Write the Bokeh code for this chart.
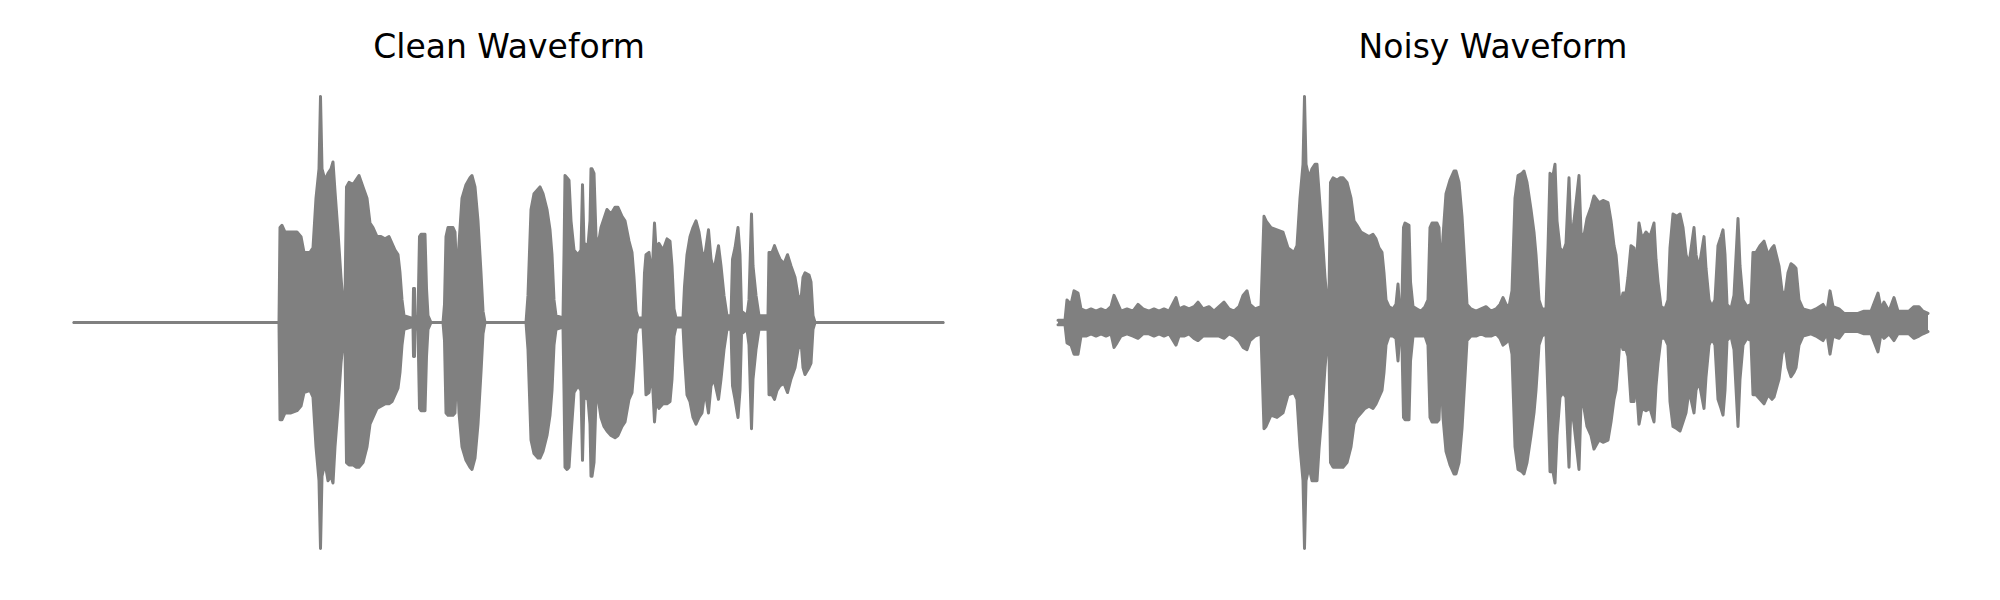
from bokeh.plotting import figure
from bokeh.layouts import row
from bokeh.models import Range1d
from bokeh.embed import file_html
from bokeh.resources import INLINE

# ---- data: amplitude envelope of the waveforms (time in ms, amplitude normalised) ----
clean_t = [0, 820, 824, 832, 844, 868, 892, 908, 920, 944, 956, 968, 980, 986, 992, 1004, 1016, 1028,
           1036, 1044, 1056, 1068, 1076, 1084, 1090, 1100, 1116, 1128, 1140, 1156, 1172, 1184, 1196,
           1212, 1228, 1244, 1260, 1272, 1284, 1296, 1304, 1312, 1320, 1348, 1356, 1358, 1362, 1364,
           1376, 1382, 1388, 1404, 1410, 1416, 1428, 1476, 1482, 1488, 1496, 1516, 1524, 1532, 1540,
           1552, 1568, 1584, 1592, 1604, 1616, 1628, 1636, 1644, 1808, 1816, 1828, 1840, 1856, 1864,
           1876, 1892, 1904, 1912, 1920, 1928, 1956, 1960, 1964, 1972, 1980, 1988, 2000, 2016, 2028,
           2034, 2040, 2056, 2064, 2068, 2072, 2080, 2088, 2096, 2108, 2120, 2132, 2148, 2164, 2176,
           2192, 2204, 2220, 2232, 2240, 2248, 2256, 2276, 2282, 2288, 2300, 2312, 2322, 2328, 2340,
           2356, 2372, 2384, 2392, 2400, 2408, 2436, 2442, 2452, 2464, 2476, 2488, 2500, 2512, 2524,
           2538, 2548, 2560, 2578, 2588, 2600, 2612, 2628, 2634, 2644, 2656, 2664, 2670, 2692, 2700,
           2710, 2716, 2728, 2740, 2776, 2780, 2792, 2802, 2812, 2824, 2840, 2854, 2868, 2884, 2896,
           2908, 2916, 2924, 2940, 2948, 2956, 2964, 3476]
clean_up = [0, 0, 0.42, 0.43, 0.40, 0.40, 0.40, 0.38, 0.31, 0.31, 0.33, 0.55, 0.68, 1.0, 0.68, 0.63,
            0.66, 0.68, 0.71, 0.58, 0.40, 0.20, 0.09, 0.10, 0.60, 0.62, 0.61, 0.63, 0.65, 0.60, 0.55,
            0.44, 0.42, 0.38, 0.38, 0.37, 0.38, 0.35, 0.32, 0.30, 0.22, 0.10, 0.03, 0.02, 0.02, 0.15,
            0.15, 0.02, 0.03, 0.38, 0.39, 0.39, 0.15, 0.03, 0, 0, 0.08, 0.38, 0.42, 0.42, 0.40, 0.18,
            0.35, 0.55, 0.61, 0.64, 0.65, 0.60, 0.45, 0.22, 0.05, 0, 0, 0.12, 0.50, 0.57, 0.59, 0.60,
            0.57, 0.50, 0.41, 0.30, 0.10, 0.03, 0.02, 0.30, 0.65, 0.64, 0.63, 0.45, 0.32, 0.30, 0.32,
            0.61, 0.35, 0.34, 0.45, 0.68, 0.68, 0.66, 0.38, 0.34, 0.42, 0.46, 0.50, 0.48, 0.51, 0.51,
            0.47, 0.45, 0.36, 0.31, 0.20, 0.05, 0.02, 0.02, 0.22, 0.30, 0.31, 0.20, 0.44, 0.33, 0.35,
            0.32, 0.37, 0.36, 0.25, 0.06, 0.02, 0.02, 0.16, 0.30, 0.38, 0.42, 0.45, 0.40, 0.31, 0.30,
            0.41, 0.28, 0.23, 0.34, 0.25, 0.12, 0.03, 0.03, 0.28, 0.33, 0.42, 0.30, 0.05, 0.03, 0.10,
            0.48, 0.25, 0.12, 0.03, 0.03, 0.31, 0.31, 0.34, 0.31, 0.28, 0.26, 0.30, 0.25, 0.20, 0.12,
            0.10, 0.20, 0.22, 0.21, 0.18, 0.03, 0, 0]
clean_low = [0, 0, 0.43, 0.43, 0.40, 0.40, 0.39, 0.37, 0.31, 0.30, 0.33, 0.55, 0.70, 1.0, 0.68, 0.62,
             0.70, 0.68, 0.71, 0.55, 0.38, 0.18, 0.09, 0.10, 0.62, 0.63, 0.63, 0.64, 0.64, 0.62, 0.55,
             0.45, 0.42, 0.38, 0.37, 0.36, 0.36, 0.35, 0.32, 0.29, 0.22, 0.10, 0.03, 0.02, 0.02, 0.15,
             0.15, 0.02, 0.03, 0.38, 0.39, 0.39, 0.15, 0.03, 0, 0, 0.08, 0.40, 0.41, 0.41, 0.40, 0.18,
             0.40, 0.55, 0.61, 0.64, 0.65, 0.60, 0.45, 0.22, 0.05, 0, 0, 0.12, 0.52, 0.58, 0.60, 0.60,
             0.57, 0.50, 0.41, 0.30, 0.10, 0.03, 0.02, 0.30, 0.64, 0.65, 0.64, 0.50, 0.31, 0.28, 0.30,
             0.61, 0.33, 0.34, 0.45, 0.68, 0.68, 0.62, 0.34, 0.33, 0.42, 0.46, 0.48, 0.50, 0.51, 0.50,
             0.46, 0.44, 0.34, 0.31, 0.20, 0.05, 0.02, 0.02, 0.15, 0.32, 0.31, 0.22, 0.44, 0.35, 0.38,
             0.36, 0.36, 0.35, 0.25, 0.06, 0.02, 0.02, 0.15, 0.32, 0.35, 0.42, 0.45, 0.42, 0.40, 0.30,
             0.40, 0.28, 0.25, 0.34, 0.25, 0.12, 0.03, 0.03, 0.28, 0.34, 0.42, 0.30, 0.05, 0.03, 0.10,
             0.47, 0.25, 0.12, 0.03, 0.03, 0.32, 0.32, 0.34, 0.30, 0.28, 0.27, 0.31, 0.25, 0.20, 0.12,
             0.08, 0.20, 0.23, 0.20, 0.18, 0.03, 0, 0]

noisy_t = [0, 28, 36, 52, 64, 80, 92, 112, 132, 152, 172, 192, 212, 224, 236, 252, 276, 300, 320, 340,
           364, 384, 404, 424, 444, 472, 484, 504, 524, 544, 560, 580, 604, 624, 644, 664, 684, 704,
           724, 740, 756, 768, 788, 812,
           824, 832, 852, 876, 900, 920, 944, 956, 968, 980, 986, 992, 1004, 1016, 1028, 1036, 1044,
           1056, 1068, 1076, 1084, 1090, 1100, 1116, 1128, 1140, 1156, 1172, 1184, 1196, 1212, 1228,
           1244, 1260, 1272, 1284, 1296, 1304, 1312, 1324, 1340, 1352, 1360, 1366, 1376, 1382, 1388,
           1404, 1410, 1420, 1436, 1452, 1468, 1480, 1488, 1496, 1516, 1524, 1532, 1540, 1552, 1568,
           1584, 1592, 1604, 1616, 1628, 1636, 1652, 1672, 1692, 1712, 1732, 1752, 1768, 1780, 1792,
           1804, 1816, 1828, 1840, 1856, 1864, 1876, 1892, 1904, 1912, 1924, 1936, 1952, 1960, 1968,
           1980, 1988, 1996, 2008, 2020, 2032, 2044, 2052, 2064, 2084, 2092, 2100, 2116, 2132, 2144,
           2164, 2180, 2200, 2212, 2224, 2232, 2240, 2248, 2260, 2272, 2280, 2292, 2304, 2312, 2324,
           2336, 2352, 2368, 2384, 2392, 2400, 2412, 2428, 2440, 2448, 2460, 2476, 2488, 2500, 2512,
           2524, 2544, 2552, 2564, 2584, 2592, 2604, 2616, 2628, 2640, 2652, 2660, 2668, 2676, 2692,
           2704, 2720, 2728, 2740, 2756, 2772, 2780, 2792, 2808, 2824, 2840, 2856, 2864, 2884, 2896,
           2908, 2920, 2932, 2944, 2952, 2964, 2980,
           3012, 3032, 3060, 3076, 3088, 3100, 3124, 3144, 3172, 3200, 3224, 3252, 3280, 3292, 3304,
           3324, 3344, 3360, 3384, 3404, 3424, 3444, 3460, 3480]
noisy_up = [0.01, 0.01, 0.10, 0.08, 0.14, 0.13, 0.06, 0.05, 0.06, 0.05, 0.06, 0.05, 0.07, 0.12, 0.09,
            0.05, 0.06, 0.05, 0.08, 0.06, 0.05, 0.06, 0.05, 0.06, 0.05, 0.11, 0.06, 0.07, 0.06, 0.07,
            0.09, 0.06, 0.07, 0.05, 0.07, 0.09, 0.06, 0.05, 0.07, 0.12, 0.14, 0.08, 0.06, 0.07,
            0.47, 0.45, 0.42, 0.41, 0.40, 0.33, 0.31, 0.34, 0.55, 0.70, 1.0, 0.70, 0.64, 0.68, 0.70,
            0.70, 0.58, 0.40, 0.20, 0.10, 0.12, 0.62, 0.64, 0.63, 0.64, 0.64, 0.62, 0.55, 0.45, 0.43,
            0.40, 0.39, 0.38, 0.39, 0.37, 0.33, 0.31, 0.22, 0.10, 0.07, 0.06, 0.08, 0.17, 0.07, 0.10,
            0.42, 0.44, 0.43, 0.18, 0.07, 0.06, 0.05, 0.07, 0.10, 0.42, 0.44, 0.44, 0.42, 0.20, 0.38,
            0.57, 0.63, 0.67, 0.67, 0.62, 0.47, 0.24, 0.08, 0.06, 0.05, 0.06, 0.07, 0.05, 0.06, 0.08,
            0.11, 0.08, 0.07, 0.14, 0.55, 0.65, 0.66, 0.67, 0.62, 0.50, 0.40, 0.30, 0.10, 0.06, 0.06,
            0.33, 0.66, 0.65, 0.70, 0.45, 0.33, 0.31, 0.35, 0.64, 0.36, 0.45, 0.65, 0.40, 0.36, 0.46,
            0.51, 0.56, 0.53, 0.54, 0.53, 0.45, 0.34, 0.30, 0.20, 0.07, 0.13, 0.13, 0.20, 0.34, 0.33,
            0.24, 0.44, 0.37, 0.40, 0.38, 0.44, 0.28, 0.18, 0.07, 0.06, 0.10, 0.33, 0.48, 0.47, 0.48,
            0.42, 0.30, 0.26, 0.42, 0.30, 0.24, 0.38, 0.24, 0.10, 0.07, 0.10, 0.34, 0.38, 0.41, 0.30,
            0.08, 0.06, 0.12, 0.46, 0.25, 0.10, 0.07, 0.08, 0.31, 0.31, 0.34, 0.36, 0.30, 0.33, 0.34,
            0.25, 0.14, 0.12, 0.22, 0.26, 0.25, 0.24, 0.10, 0.06,
            0.05, 0.06, 0.08, 0.05, 0.14, 0.07, 0.06, 0.04, 0.04, 0.04, 0.05, 0.05, 0.13, 0.06, 0.09,
            0.05, 0.11, 0.05, 0.05, 0.05, 0.07, 0.07, 0.05, 0.04]
noisy_low = [0.01, 0.01, 0.09, 0.10, 0.14, 0.14, 0.06, 0.06, 0.05, 0.06, 0.05, 0.06, 0.05, 0.11, 0.09,
             0.06, 0.05, 0.06, 0.07, 0.05, 0.05, 0.06, 0.05, 0.06, 0.05, 0.10, 0.06, 0.06, 0.05, 0.07,
             0.08, 0.06, 0.06, 0.06, 0.06, 0.07, 0.05, 0.06, 0.08, 0.11, 0.12, 0.08, 0.06, 0.05,
             0.47, 0.46, 0.41, 0.42, 0.40, 0.32, 0.31, 0.34, 0.55, 0.70, 1.0, 0.70, 0.64, 0.70, 0.70,
             0.70, 0.56, 0.40, 0.20, 0.10, 0.12, 0.62, 0.64, 0.64, 0.64, 0.64, 0.62, 0.55, 0.45, 0.42,
             0.40, 0.38, 0.37, 0.38, 0.36, 0.33, 0.30, 0.22, 0.10, 0.06, 0.06, 0.07, 0.17, 0.07, 0.10,
             0.42, 0.43, 0.43, 0.17, 0.06, 0.06, 0.06, 0.06, 0.10, 0.42, 0.44, 0.44, 0.43, 0.20, 0.42,
             0.57, 0.63, 0.67, 0.67, 0.62, 0.47, 0.24, 0.08, 0.06, 0.06, 0.05, 0.06, 0.06, 0.05, 0.07,
             0.10, 0.09, 0.07, 0.14, 0.55, 0.65, 0.66, 0.67, 0.62, 0.50, 0.40, 0.30, 0.10, 0.06, 0.05,
             0.33, 0.66, 0.66, 0.71, 0.50, 0.33, 0.31, 0.33, 0.64, 0.36, 0.45, 0.65, 0.36, 0.35, 0.46,
             0.50, 0.56, 0.52, 0.53, 0.52, 0.44, 0.34, 0.30, 0.20, 0.07, 0.12, 0.12, 0.15, 0.35, 0.35,
             0.25, 0.45, 0.38, 0.39, 0.38, 0.44, 0.28, 0.18, 0.07, 0.07, 0.10, 0.35, 0.46, 0.47, 0.48,
             0.44, 0.40, 0.30, 0.40, 0.30, 0.26, 0.38, 0.24, 0.10, 0.07, 0.10, 0.34, 0.38, 0.41, 0.30,
             0.08, 0.06, 0.12, 0.46, 0.25, 0.10, 0.07, 0.08, 0.32, 0.32, 0.34, 0.36, 0.32, 0.34, 0.33,
             0.25, 0.14, 0.10, 0.20, 0.24, 0.22, 0.20, 0.10, 0.06,
             0.05, 0.06, 0.08, 0.05, 0.14, 0.06, 0.07, 0.04, 0.04, 0.04, 0.05, 0.05, 0.13, 0.05, 0.07,
             0.05, 0.08, 0.05, 0.05, 0.05, 0.07, 0.06, 0.05, 0.04]

titles = ["Clean Waveform", "Noisy Waveform"]
WAVE_COLOR = "#808080"


def panel(title, t, up, low, border_left, border_right):
    p = figure(width=1000, height=584, output_backend="svg", toolbar_location=None,
               x_range=Range1d(-174, 3654), y_range=Range1d(-1.1018, 1.1018),
               min_border_left=border_left, min_border_right=border_right,
               min_border_top=73, min_border_bottom=13, title=title)
    neg = [-v for v in low]
    p.varea(x=t, y1=neg, y2=up, fill_color=WAVE_COLOR)
    p.line(t, up, line_color=WAVE_COLOR, line_width=3, line_join="round", line_cap="round")
    p.line(t, neg, line_color=WAVE_COLOR, line_width=3, line_join="round", line_cap="round")
    p.axis.visible = False
    p.xgrid.visible = False
    p.ygrid.visible = False
    p.outline_line_color = None
    p.background_fill_color = "white"
    p.border_fill_color = "white"
    p.title.align = "center"
    p.title.text_font = "DejaVu Sans"
    p.title.text_font_size = "33px"
    p.title.text_font_style = "normal"
    p.title.text_color = "black"
    p.title.standoff = 16
    return p


p1 = panel(titles[0], clean_t, clean_up, clean_low, 30, 13)
p2 = panel(titles[1], noisy_t, noisy_up, noisy_low, 14, 29)
layout = row(p1, p2)

open("out.html", "w").write(file_html(layout, INLINE))
